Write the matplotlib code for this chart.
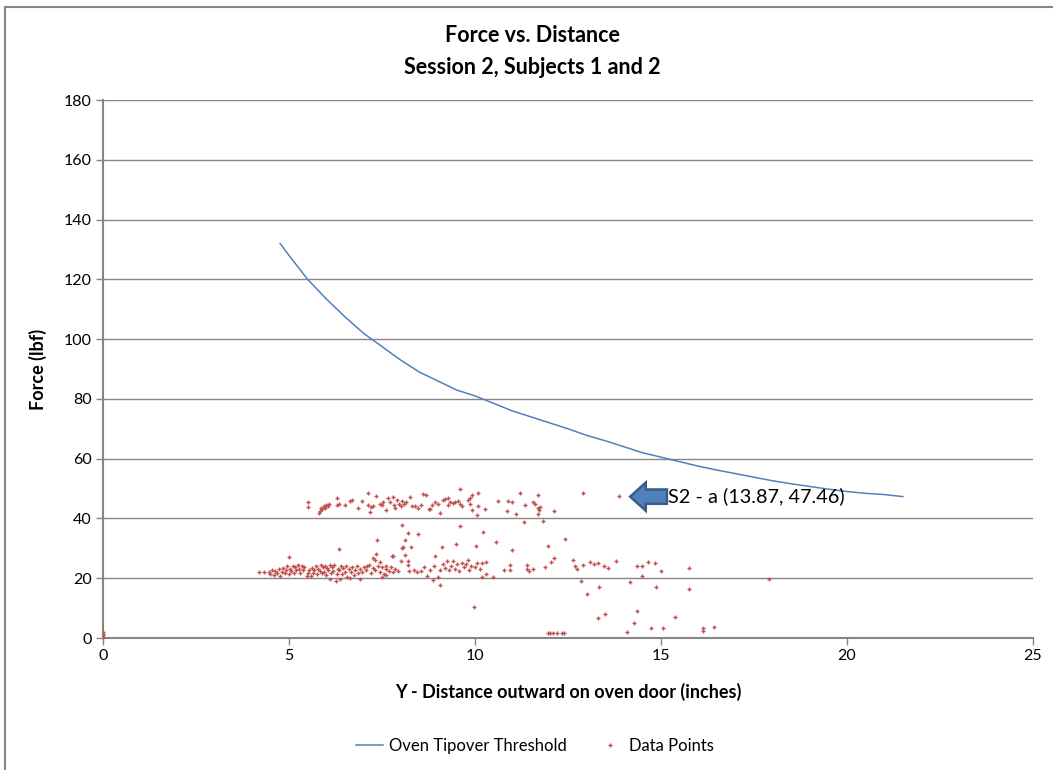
import matplotlib
matplotlib.use("Agg")
import matplotlib.pyplot as plt
from matplotlib.lines import Line2D
from matplotlib.patches import FancyArrow

plt.rcParams['font.family'] = ['Lato', 'DejaVu Sans']

# oven tipover threshold curve
curve_x = [4.76, 5.0, 5.5, 6.0, 6.5, 7.0, 7.5, 8.0, 8.5, 9.0, 9.5, 10.0, 10.5, 11.0, 11.5,
           12.0, 12.5, 13.0, 13.5, 14.0, 14.5, 15.0, 15.5, 16.0, 16.5, 17.0, 17.5, 18.0,
           18.5, 19.0, 19.5, 20.0, 20.5, 21.0, 21.5]
curve_y = [132, 128, 120, 113.5, 107.5, 102, 97.5, 93, 89, 86, 83, 81, 78.5, 76, 74,
           72, 70, 67.8, 66, 64, 62, 60.5, 59, 57.5, 56.2, 55, 53.8, 52.6,
           51.6, 50.7, 49.8, 49.0, 48.4, 48.0, 47.3]

# data points - lower band (~20-25 lbf)
low_x = [4.19, 4.33, 4.45, 4.50, 4.55, 4.60, 4.62, 4.68, 4.72, 4.75, 4.80, 4.83, 4.88, 4.92,
         4.95, 5.00, 5.03, 5.06, 5.10, 5.13, 5.17, 5.20, 5.24, 5.27, 5.30, 5.34, 5.37, 5.40,
         5.01, 5.48, 5.52, 5.55, 5.58, 5.62, 5.65, 5.68, 5.72, 5.75, 5.78, 5.82, 5.85, 5.88,
         5.91, 5.94, 5.97, 6.00, 6.03, 6.06, 6.09, 6.10, 6.13, 6.16, 6.19, 6.22, 6.26, 6.28,
         6.31, 6.34, 6.35, 6.37, 6.40, 6.43, 6.46, 6.50, 6.53, 6.56, 6.60, 6.64, 6.66, 6.70,
         6.74, 6.78, 6.82, 6.86, 6.90, 6.92, 6.96, 7.02, 7.08, 7.14, 7.20, 7.25, 7.30, 7.32,
         7.38, 7.44, 7.50, 7.56, 7.62, 7.68, 7.74, 7.76, 7.80, 7.86, 7.92, 7.10, 7.26, 7.36,
         7.35, 7.44, 7.60, 7.79, 7.50, 7.60]
low_y = [22.2, 22.2, 22.0, 21.5, 22.8, 21.2, 22.5, 21.8, 23.0, 20.8, 22.2, 23.5, 21.6, 22.9,
         24.0, 21.4, 23.2, 22.4, 24.2, 21.9, 23.6, 22.6, 24.4, 23.0, 21.8, 24.0, 22.8, 23.6,
         27.2, 20.8, 21.6, 22.6, 20.6, 23.4, 21.8, 22.9, 24.2, 21.4, 23.0, 22.4, 24.5, 21.6,
         23.6, 22.2, 24.0, 21.0, 23.4, 22.6, 24.3, 19.6, 21.8, 23.8, 22.4, 24.4, 19.2, 21.5,
         23.2, 29.8, 22.6, 19.6, 24.0, 21.4, 23.4, 22.2, 24.2, 20.4, 23.0, 20.0, 22.0, 23.8,
         21.2, 22.8, 24.1, 21.8, 19.8, 23.2, 22.2, 23.6, 22.6, 24.4, 21.8, 23.3, 26.0, 22.6,
         24.2, 22.0, 23.6, 21.4, 23.0, 22.4, 23.6, 27.4, 22.0, 23.2, 22.4, 24.0, 26.8, 32.8,
         28.1, 25.3, 24.0, 27.4, 20.4, 21.0]

# data points - middle scatter and the low points past 12 in
mid_x = [8.00, 8.03, 8.07, 8.13, 8.12, 8.05, 8.20, 8.20, 8.22, 8.27, 8.20, 8.48, 8.35, 8.45,
         8.55, 8.62, 8.70, 8.80, 8.86, 8.90, 8.92, 9.00, 9.05, 9.07, 9.10, 9.15, 9.20, 9.25,
         9.30, 9.35, 9.40, 9.45, 9.50, 9.52, 9.58, 9.61, 9.65, 9.70, 9.75, 9.80, 9.85, 9.90,
         9.97, 10.03, 10.00, 10.06, 10.13, 10.20, 10.20, 10.22, 10.30, 10.30, 10.49, 10.56,
         10.78, 10.93, 10.93, 11.00, 11.39, 11.39, 11.45, 11.55, 11.88, 11.97, 11.83, 11.33,
         12.12, 12.05, 12.42, 12.64, 12.69, 12.75, 12.90, 13.10, 13.20, 13.30, 13.47, 13.58,
         13.80, 14.35, 14.48, 14.65, 14.84, 15.00, 15.76, 12.84, 14.17, 14.48, 13.34, 14.86,
         15.76, 13.02, 14.35, 15.38, 13.49, 13.31, 14.27, 14.73, 15.06, 14.08, 16.14, 16.42,
         16.14, 17.90, 11.97, 12.02, 12.10, 12.20, 12.35, 12.40]
mid_y = [25.6, 30.0, 30.3, 27.8, 32.8, 37.9, 25.8, 24.3, 22.3, 30.3, 35.0, 34.7, 22.6, 22.2,
         22.3, 23.6, 20.8, 22.6, 19.4, 24.0, 27.6, 20.4, 22.8, 17.7, 30.3, 24.6, 23.4, 25.6,
         22.8, 24.2, 25.8, 23.0, 31.3, 24.8, 22.4, 37.6, 25.0, 23.6, 24.6, 26.0, 22.6, 24.2,
         10.5, 30.8, 23.6, 25.2, 23.0, 25.0, 20.4, 35.3, 25.5, 21.4, 20.5, 32.0,
         22.8, 24.3, 22.6, 29.3, 24.4, 23.0, 22.5, 23.0, 23.9, 30.8, 39.3, 38.9,
         26.8, 25.5, 33.1, 26.1, 24.1, 23.1, 24.4, 25.4, 24.6, 25.0, 24.1, 23.4,
         25.6, 24.1, 24.1, 25.5, 25.0, 22.5, 23.5, 19.2, 18.8, 20.7, 16.9, 16.9,
         16.4, 14.7, 9.1, 7.1, 7.9, 6.6, 4.9, 3.2, 3.2, 1.9, 3.2, 3.6,
         2.3, 19.6, 1.6, 1.6, 1.6, 1.6, 1.6, 1.6]

# data points - upper band (~42-49 lbf)
up_x = [5.52, 5.52, 5.80, 5.83, 5.86, 5.90, 5.93, 5.96, 6.00, 6.04, 6.08, 6.28, 6.30, 6.35,
        6.50, 6.64, 6.70, 6.86, 6.95, 7.13, 7.13, 7.18, 7.20, 7.26, 7.34, 7.45, 7.50, 7.52,
        7.60, 7.66, 7.72, 7.80, 7.82, 7.85, 7.90, 7.95, 8.00, 8.05, 8.10, 8.15, 8.25, 8.30,
        8.40, 8.48, 8.55, 8.60, 8.68, 8.75, 8.80, 8.84, 8.93, 9.00, 9.06, 9.15, 9.20, 9.27,
        9.27, 9.32, 9.40, 9.47, 9.53, 9.60, 9.60, 9.66, 9.80, 9.86, 9.86, 9.93, 9.93, 10.09,
        10.09, 10.06, 10.27, 10.63, 10.85, 10.90, 11.00, 11.10, 11.20, 11.35, 11.56, 11.60,
        11.70, 11.70, 11.72, 11.70, 11.75, 12.12, 12.91, 13.87]
up_y = [45.6, 43.9, 41.8, 42.6, 43.4, 43.0, 44.0, 43.6, 44.5, 44.0, 44.8, 46.7, 44.5, 45.0,
        44.5, 45.9, 46.3, 43.4, 45.9, 48.6, 44.5, 42.3, 43.9, 44.2, 47.5, 45.0, 44.5, 45.6,
        42.8, 46.8, 45.5, 47.3, 44.6, 43.5, 46.2, 45.0, 44.2, 46.0, 44.8, 45.5, 47.3, 44.2,
        44.0, 43.6, 44.4, 48.2, 47.8, 43.0, 43.2, 44.5, 45.6, 44.8, 41.8, 46.2, 46.6, 47.0,
        44.6, 45.4, 45.2, 45.6, 46.0, 49.7, 45.0, 44.2, 46.2, 46.7, 45.0, 47.8, 42.8, 48.4,
        44.0, 41.3, 43.1, 45.9, 42.5, 45.9, 45.6, 41.5, 48.4, 44.5, 45.4, 45.0,
        47.8, 43.5, 42.8, 41.5, 43.9, 42.5, 48.6, 47.46]

# points sitting on the origin
zero_x = [0, 0, 0, 0, 0]
zero_y = [0, 0.5, 1.0, 1.5, 2.0]

pts_x = low_x + mid_x + up_x + zero_x
pts_y = low_y + mid_y + up_y + zero_y

blue = '#4F81BD'
red = '#C0504D'
grey = '#868686'

fig = plt.figure(figsize=(10.53, 7.7), dpi=100)
ax = fig.add_axes([103 / 1053, 1 - 638 / 770, 930 / 1053, 538 / 770])

for yv in range(20, 181, 20):
    ax.axhline(yv, color=grey, lw=1, zorder=0)

ax.plot(curve_x, curve_y, color=blue, lw=1.1, zorder=3)
ax.scatter(pts_x, pts_y, marker='+', s=12, color=red, linewidths=1.0, zorder=4)

# callout arrow and label for S2 - a
ax.add_patch(FancyArrow(15.16, 47.3, -0.99, 0, width=4.8, head_width=9.4, head_length=0.42,
                        length_includes_head=True, facecolor=blue, edgecolor='#385D8A',
                        lw=1.8, zorder=5))
ax.text(15.18, 47.4, 'S2 - a (13.87, 47.46)', fontsize=14.3, va='center', ha='left', zorder=6)

ax.set_xlim(0, 25)
ax.set_ylim(0, 180)
ax.set_xticks(range(0, 26, 5))
ax.set_yticks(range(0, 181, 20))
for s in ['top', 'right']:
    ax.spines[s].set_visible(False)
for s in ['left', 'bottom']:
    ax.spines[s].set_color(grey)
    ax.spines[s].set_linewidth(1.5)
ax.tick_params(direction='out', length=5, width=1, color=grey, labelsize=11.5, pad=3)

ax.set_xlabel('Y - Distance outward on oven door (inches)', fontsize=13,
              fontweight='bold', labelpad=14)
ax.set_ylabel('Force (lbf)', fontsize=13, fontweight='bold', labelpad=12)

fig.text(532 / 1053, 1 - 35 / 770, 'Force vs. Distance', fontsize=15.5, fontweight='bold',
         ha='center', va='center')
fig.text(532 / 1053, 1 - 67 / 770, 'Session 2, Subjects 1 and 2', fontsize=15.5,
         fontweight='bold', ha='center', va='center')

leg_handles = [Line2D([], [], color=blue, lw=1.1),
               Line2D([], [], color=red, marker='+', ls='none', ms=3, mew=1.0)]
fig.legend(leg_handles, ['Oven Tipover Threshold', 'Data Points'], loc='center',
           bbox_to_anchor=(535 / 1053, 1 - 746 / 770), ncol=2, frameon=False,
           fontsize=12, handlelength=1.6, handletextpad=0.35, columnspacing=1.8)

# chart frame (cropped on right/bottom in the screenshot)
fig.add_artist(Line2D([5 / 1053, 5 / 1053], [0, 1 - 7 / 770], color=grey, lw=1.5,
                      transform=fig.transFigure))
fig.add_artist(Line2D([5 / 1053, 1], [1 - 7 / 770, 1 - 7 / 770], color=grey, lw=1.5,
                      transform=fig.transFigure))

fig.savefig('out.png', dpi=100)
